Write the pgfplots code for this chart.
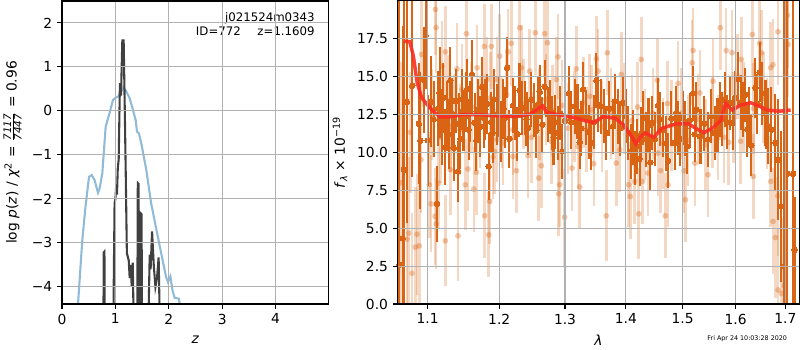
\documentclass[border=0pt]{standalone}
\usepackage{fontspec}
\setmainfont{DejaVu Sans}
\usepackage{pgfplots}
\pgfplotsset{compat=1.18}
\definecolor{myblue}{HTML}{8FBBD9}
\definecolor{myorange}{RGB}{217,100,20}
\definecolor{gridgray}{HTML}{B0B0B0}
\definecolor{myred}{RGB}{250,45,35}
\pgfplotsset{
  common/.style={
    scale only axis, height=218.2bp, axis on top,
    grid=major, grid style={gridgray, line width=0.8bp},
    axis line style={black, line width=0.8bp},
    tick align=outside, tick pos=left, major tick length=3.5bp,
    tick style={black, line width=0.8bp},
    tick label style={font=\fontsize{10}{12}\selectfont},
    label style={font=\fontsize{10}{12}\selectfont},
    /pgf/number format/assume math mode=true,
  }
}
\begin{document}
\begin{tikzpicture}
\path[use as bounding box] (-44.64bp,-33.12bp) rectangle (531.36bp,218.88bp);
\begin{axis}[common, at={(0,0)}, anchor=south west, width=192.2bp,
  xmin=0, xmax=5.0, ymin=-4.39, ymax=2.5,
  xtick={0,1,2,3,4}, xticklabels={0,1,2,3,4},
  ytick={-4,-3,-2,-1,0,1,2}, yticklabels={−4,−3,−2,−1,0,1,2},
  xlabel={\textit{z}},
  xlabel style={at={(axis description cs:0.5,0)}, anchor=center, yshift=-26bp},
  ylabel={log \textit{p}(\textit{z}) / \textit{χ}\textsuperscript{2} = $\frac{\mbox{\itshape\fontsize{7.5}{8}\selectfont 7117}}{\mbox{\itshape\fontsize{7.5}{8}\selectfont 7447}}$ = 0.96},
  ylabel style={at={(axis description cs:-0.185,0.5)}, anchor=center, rotate=0},
]
\addplot[myblue, line width=1.5bp] coordinates {
(0.29,-4.6) (0.30,-4.39) (0.38,-2.94) (0.44,-2.18) (0.506,-1.5) (0.556,-1.46) (0.61,-1.57) (0.674,-1.86) (0.705,-1.76) (0.755,-1.42) (0.818,-0.36) (0.89,-0.05) (0.955,0.25) (1.005,0.30) (1.055,0.33) (1.09,0.40) (1.155,0.54) (1.205,0.44) (1.267,0.29) (1.33,0.02) (1.38,-0.21) (1.405,-0.47) (1.44,-0.51) (1.486,-0.74) (1.58,-1.35) (1.67,-2.1) (1.77,-2.71) (1.86,-3.25) (1.95,-3.78) (1.985,-3.89) (2.03,-3.76) (2.07,-4.08) (2.11,-4.25) (2.19,-4.27) (2.23,-4.6)
};
\addplot[black!75, line width=1.5bp] coordinates {
(0.775,-5) (0.782,-3.22) (0.795,-3.2) (0.80,-5)
(0.96,-5) (0.985,-2.1) (1.0,-2.0) (1.015,-1.7) (1.03,-1.9) (1.045,-1.3) (1.062,-1.1) (1.085,0.63) (1.105,0.35) (1.13,1.6) (1.155,1.6) (1.175,0.1) (1.193,-1.34) (1.215,-3.23) (1.25,-3.4) (1.268,-3.8) (1.287,-3.5) (1.306,-4.0) (1.325,-3.45) (1.345,-5)
(1.41,-5) (1.42,-1.64) (1.435,-1.66) (1.445,-5)
(1.465,-5) (1.475,-2.33) (1.49,-2.35) (1.5,-5)
(1.615,-5) (1.643,-3.27) (1.66,-3.6) (1.687,-2.74) (1.72,-3.53) (1.75,-4.0) (1.78,-3.8) (1.81,-3.33) (1.835,-5)
};
\node[anchor=north east, align=right, inner sep=0, font=\fontsize{8.5}{10.3}\selectfont] at (rel axis cs:0.9476,0.962) {j021524m0343\\ID=772\hspace{12bp}z=1.1609};
\end{axis}
\begin{axis}[common, clip mode=individual, at={(241.7bp,0)}, anchor=south west, width=289.2bp,
  xmode=log, xmin=1.0606, xmax=1.729, ymin=0, ymax=20,
  xtick={1.1,1.2,1.3,1.4,1.5,1.6,1.7}, xticklabels={1.1,1.2,1.3,1.4,1.5,1.6,1.7},
  minor xtick={},
  ytick={0,2.5,5,7.5,10,12.5,15,17.5},
  yticklabel style={/pgf/number format/.cd, fixed, fixed zerofill, precision=1},
  xlabel={\textit{λ}},
  xlabel style={at={(axis description cs:0.5,0)}, anchor=center, yshift=-26bp},
  ylabel={\textit{f}\textsubscript{\textit{λ}} × 10\textsuperscript{−19}},
  ylabel style={at={(axis description cs:-0.1436,0.5)}, anchor=center},
]
% light points
\addplot[myorange, only marks, mark=*, mark size=2.1bp, mark options={fill=myorange, fill opacity=0.35, draw opacity=0},
  error bars/.cd, y dir=both, y explicit, error mark=none,
  error bar style={myorange, opacity=0.25, line width=1.8bp}]
 table[x=x, y=y, y error=e] {
x y e
1.0640 8.0 8
1.0726 4.28 6
1.0749 4.67 5
1.0770 11.33 4
1.0792 2.03 4
1.0836 3.75 4
1.0858 4.6 4
1.0888 3.84 4.5
1.0910 9.52 3.5
1.0919 16.47 3.5
1.1021 7.87 3.5
1.1047 6.61 3.2
1.1060 12.5 3
1.1100 5.78 3.2
1.1104 19.44 3.0
1.1113 18.24 3.0
1.1114 5.29 3.0
1.1146 7.98 3.0
1.1170 11.0 3
1.1193 15.7 3.0
1.1238 16.64 3.0
1.1238 4.17 3.0
1.1280 13.4 3
1.1307 8.86 3.0
1.1307 11.73 3.0
1.1360 12.2 3
1.1399 15.52 3.0
1.1413 4.5 3.0
1.1440 11.5 3
1.1469 14.15 3.0
1.1516 7.87 3.0
1.1530 17.84 2.8
1.1550 8.91 2.8
1.1600 13.0 3
1.1634 7.58 2.8
1.1671 8.69 2.8
1.1681 15.59 2.8
1.1720 12.0 3
1.1785 17.0 2.8
1.1790 5.82 2.8
1.1824 14.81 2.8
1.1848 4.56 2.8
1.1862 6.77 2.8
1.1870 13.6 3
1.1885 17.0 2.8
1.1910 9.7 2.8
1.1929 10.07 2.8
1.1968 14.81 2.8
1.1968 10.85 2.8
1.2007 16.36 2.8
1.2040 12.0 3
1.2056 10.63 2.8
1.2110 13.8 3
1.2130 16.64 2.8
1.2178 17.2 2.8
1.2200 11.5 3
1.2203 9.74 2.8
1.2253 8.8 2.8
1.2303 18.23 2.8
1.2327 15.59 2.8
1.2360 13.2 3
1.2428 9.79 2.8
1.2453 15.37 2.8
1.2480 11.0 3
1.2539 17.9 2.8
1.2591 8.31 2.8
1.2600 12.5 3
1.2631 9.13 2.8
1.2683 17.84 2.8
1.2700 13.5 3
1.2723 17.24 2.8
1.2785 10.74 2.8
1.2800 12.8 3
1.2864 14.81 2.8
1.2890 16.31 2.8
1.2901 7.28 2.8
1.2916 7.87 2.8
1.2950 13.1 3
1.2995 5.73 3.2
1.3050 11.6 3
1.3112 8.97 2.8
1.3150 12.4 3
1.3180 15.52 2.8
1.3208 10.4 2.8
1.3235 7.72 2.8
1.3300 13.3 3
1.3341 11.51 2.8
1.3397 13.71 2.8
1.3430 12.8 3
1.3463 9.26 2.8
1.3506 16.18 2.8
1.3533 15.37 2.8
1.3600 11.7 3
1.3670 5.82 3.0
1.3687 16.58 2.8
1.3750 12.6 3
1.3838 9.3 2.8
1.3895 10.19 2.8
1.3922 15.15 2.8
1.3980 12.9 3
1.4048 7.87 2.8
1.4075 7.1 2.8
1.4100 12.1 3
1.4151 8.09 2.8
1.4200 13.0 3
1.4220 5.95 3.0
1.4265 16.14 2.8
1.4283 8.09 2.8
1.4330 11.2 3
1.4381 8.64 2.8
1.4470 12.6 3
1.4545 14.77 2.8
1.4558 9.96 2.8
1.4605 8.8 2.8
1.4650 10.6 3
1.4688 5.82 2.8
1.4724 13.23 2.8
1.4736 7.87 2.8
1.4800 11.8 3
1.4917 14.55 2.8
1.4980 12.6 3
1.5026 8.8 2.8
1.5050 6.88 2.8
1.5100 10.8 3
1.5175 15.92 2.8
1.5193 16.73 2.8
1.5224 9.3 2.8
1.5280 12.2 3
1.5318 13.93 2.8
1.5420 10.5 3
1.5471 8.53 2.8
1.5560 12.0 3
1.5566 14.7 2.8
1.5661 10.96 2.8
1.5705 18.23 2.8
1.5780 11.0 3
1.5819 16.73 2.8
1.5866 10.67 2.8
1.5930 16.58 2.8
1.5960 12.3 3
1.6033 15.04 2.8
1.6099 10.74 2.8
1.6111 16.14 2.8
1.6150 13.0 3
1.6328 17.79 2.8
1.6348 8.42 2.8
1.6350 12.9 3
1.6476 17.2 2.8
1.6509 16.58 2.8
1.6550 13.6 3
1.6620 11.9 3
1.6698 15.59 3.0
1.6698 8.09 3.0
1.6745 15.8 3.0
1.6745 5.45 3.5
1.6793 4.39 4
1.6847 17.97 3.5
1.6847 7.14 4
1.6847 0.93 4
1.6916 0.7 5
1.6972 1.21 5
1.7039 19.05 3.5
1.7053 17.13 3.5
};
% dark points
\addplot[myorange, only marks, mark=*, mark size=2bp, mark options={fill=myorange, draw=myorange, line width=0pt},
  error bars/.cd, y dir=both, y explicit, error mark=none,
  error bar style={myorange, line width=1.5bp}]
 table[x=x, y=y, y error=e] {
x y e
1.0627 2.58 20
1.0670 4.34 14
1.0687 8.86 12
1.0726 13.34 8
1.0795 14.4 6
1.0883 11.9 4
1.0901 10.78 4.5
1.0946 14.8 3.5
1.0975 17.72 3.5
1.1000 10.8 3
1.1047 13.34 3
1.1080 12.2 2.5
1.1125 6.61 2.5
1.1140 12.9 2.5
1.1162 13.93 3
1.1193 11.7 2.5
1.1210 13.6 2.3
1.1238 10.34 2.5
1.1262 12.4 2.3
1.1285 11.2 2.3
1.1307 14.75 2.2
1.1330 12.6 2.2
1.1354 10.3 2.2
1.1380 13.4 2.1
1.1413 8.75 2.0
1.1423 11.9 2.0
1.1445 10.9 2.0
1.1469 13.5 2.0
1.1490 12.1 2.0
1.1525 13.34 2.0
1.1545 14.2 2.0
1.1563 11.5 2.0
1.1585 12.7 2.0
1.1609 15.15 2.3
1.1647 11.95 2.0
1.1670 10.8 2.0
1.1695 12.83 2.0
1.1727 11.7 2.0
1.1752 14.33 2.0
1.1775 12.3 2.0
1.1799 12.83 2.0
1.1825 13.2 2.0
1.1848 9.08 2.2
1.1881 12.0 2.0
1.1905 11.3 2.0
1.1920 13.5 2.0
1.1968 12.5 2.0
1.1995 13.0 2.0
1.2030 11.4 2.0
1.2060 12.87 2.0
1.2090 12.3 2.0
1.2115 15.59 2.0
1.2150 10.9 1.9
1.2203 13.1 1.8
1.2235 12.6 1.8
1.2267 11.22 1.8
1.2300 14.1 1.8
1.2336 12.94 1.8
1.2376 12.94 1.8
1.2405 12.2 1.8
1.2428 11.62 1.8
1.2478 13.49 1.8
1.2520 12.8 1.8
1.2554 11.44 1.8
1.2580 13.2 1.8
1.2606 14.0 1.8
1.2646 11.84 1.8
1.2683 14.33 1.8
1.2734 12.5 1.8
1.2760 13.0 1.8
1.2796 11.95 1.8
1.2820 11.0 1.8
1.2848 12.0 1.8
1.2890 11.29 1.8
1.2925 12.6 1.8
1.2958 10.07 1.8
1.3000 12.1 1.8
1.3064 13.89 1.8
1.3100 12.0 1.8
1.3155 13.05 1.8
1.3200 12.7 1.8
1.3235 10.69 1.8
1.3260 11.6 1.8
1.3289 14.15 1.8
1.3330 12.3 1.8
1.3381 11.35 1.8
1.3424 10.63 1.8
1.3460 12.0 1.8
1.3506 14.75 1.8
1.3533 13.16 1.8
1.3588 13.05 1.8
1.3630 12.4 1.8
1.3670 11.29 1.8
1.3720 12.9 1.8
1.3782 11.73 1.8
1.3810 13.38 1.8
1.3866 12.39 1.8
1.3900 11.6 1.8
1.3951 13.27 1.8
1.4000 12.4 1.8
1.4036 11.29 1.8
1.4093 10.07 1.8
1.4120 11.0 1.8
1.4151 9.63 1.8
1.4190 10.4 1.8
1.4237 9.59 1.8
1.4260 11.2 1.8
1.4294 12.28 1.8
1.4352 10.85 1.8
1.4390 11.8 1.8
1.4422 9.35 1.8
1.4457 11.95 1.8
1.4500 10.9 1.8
1.4558 13.1 1.8
1.4600 12.2 1.8
1.4647 11.5 1.8
1.4700 10.6 1.8
1.4736 9.46 1.8
1.4796 12.24 1.8
1.4856 10.63 1.8
1.4880 12.6 1.8
1.4917 11.62 1.8
1.4960 10.9 1.8
1.5008 12.28 1.8
1.5050 11.6 1.8
1.5087 10.4 1.8
1.5130 12.1 1.8
1.5193 13.89 1.8
1.5220 11.2 1.8
1.5254 12.83 1.8
1.5318 11.07 1.8
1.5346 11.07 1.8
1.5400 11.9 1.8
1.5471 10.85 1.8
1.5530 12.4 1.8
1.5597 11.29 1.8
1.5650 11.8 1.8
1.5693 12.83 1.8
1.5740 12.2 1.8
1.5788 13.49 1.8
1.5840 12.0 1.8
1.5885 13.27 1.8
1.5949 11.95 1.8
1.5990 13.6 1.8
1.6046 14.81 1.8
1.6100 13.3 1.8
1.6144 12.83 1.8
1.6190 13.8 1.8
1.6229 11.5 1.8
1.6270 12.4 1.9
1.6308 10.47 2.0
1.6388 14.26 2.0
1.6430 13.2 2.0
1.6476 15.3 2.0
1.6530 13.9 2.1
1.6577 12.61 2.2
1.6610 12.5 2.3
1.6643 11.73 2.5
1.6711 11.5 2.8
1.6793 10.63 3.2
1.6847 9.52 4
1.6916 6.44 5
1.6972 2.47 18
1.7039 8.6 12
1.7158 8.6 12
1.7190 3.57 3.5
};
\addplot[myred, opacity=0.9, line width=2.5bp] coordinates {
(1.0688,17.35) (1.0764,17.3) (1.081,16.36) (1.086,14.6) (1.0921,13.6) (1.1004,13.1) (1.1075,12.72) (1.1166,12.35) (1.130,12.35) (1.1478,12.5) (1.1714,12.5) (1.1955,12.42) (1.220,12.37) (1.2455,12.52) (1.256,12.82) (1.265,13.08) (1.2716,12.64) (1.288,12.5) (1.3094,12.35) (1.331,12.11) (1.345,11.98) (1.3535,12.15) (1.362,12.37) (1.3816,12.26) (1.396,11.82) (1.410,11.05) (1.417,10.56) (1.4245,11.0) (1.4333,11.3) (1.448,11.0) (1.463,11.6) (1.487,11.88) (1.5115,11.88) (1.524,11.6) (1.5393,11.3) (1.555,11.6) (1.571,12.1) (1.5805,13.24) (1.5935,12.8) (1.6098,13.13) (1.6295,13.28) (1.6462,13.06) (1.663,12.8) (1.6866,12.72) (1.7107,12.8)
};
\addplot[black, dotted, line width=1.2bp] coordinates {(1.0606,0) (1.729,0)};
\end{axis}
\node[anchor=base east, inner sep=0, font=\fontsize{4.6}{5}\selectfont] at (522.2bp,-26.6bp) {Fri Apr 24 10:03:28 2020};
\end{tikzpicture}
\end{document}
